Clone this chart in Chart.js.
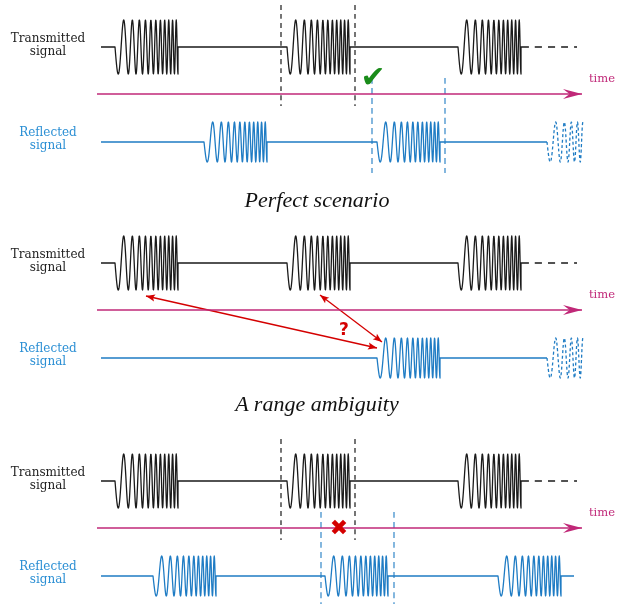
<!DOCTYPE html>
<html>
<head>
<meta charset="utf-8">
<script src="https://cdn.jsdelivr.net/npm/chart.js@4.4.1/dist/chart.umd.min.js"></script>
<style>
  body { margin: 0; background: #fff; }
  #wrap { position: relative; width: 624px; height: 604px; }
  #wrap canvas { position: absolute; left: 0; top: 0; }
  .lbl { position: absolute; left: 0; width: 96px; text-align: center;
         font: 12px "DejaVu Serif", serif; line-height: 13px; }
  .ttl { position: absolute; left: 0; width: 634px; text-align: center;
         font: italic 22px "Liberation Serif", serif; line-height: 24px; color: #111; }
  .time { position: absolute; left: 589px; font: 11.5px "DejaVu Serif", serif;
          line-height: 13px; color: #c02878; }
  .mark { position: absolute; transform: translate(-50%, -50%); line-height: 1; }
</style>
</head>
<body>
<div id="wrap">
  <canvas id="diagram" width="624" height="604"></canvas>
</div>
<script>
// time axis runs in canvas units (0..624), rows are stacked in three panels
const panelOffsets = [0, 216, 434];
const txBase = 47, axisY = 94, rxBase = 142;
const txAmp = 27, rxAmp = 20;
const pulseLen = 63;

// transmitted pulses (start of each chirp), same in every panel
const txPulses = [115, 287, 458];
const txLine = [101, 522];
const txDashed = [522, 577];

// reflected pulses per panel
const rxPulses = [[204, 377], [377], [153, 325, 498]];
const rxLine = [[101, 547], [101, 547], [101, 574]];
const rxDashedPulse = [547, 547, null];   // truncated, dashed chirp
const rxDashedEnd = 583;

// dashed gate markers
const txGates = [[281, 355], [], [281, 355]];
const rxGates = [[372, 445], [], [321, 394]];

// ambiguity arrows (panel 2)
const ambArrows = [
  [[320, 295], [382, 342]],
  [[146, 296], [377, 348]],
];

const ink = '#1a1a1a', blue = '#1f7cc4', magenta = '#c02878', red = '#d40000';

function chirpPoints(start, base, amp, stop) {
  const f0 = 1 / 14, f1 = 1 / 3.5;
  const end = Math.min(start + pulseLen, stop ?? Infinity);
  const pts = [];
  for (let t = start; t <= end + 1e-9; t += 0.25) {
    const tau = t - start;
    const ph = 2 * Math.PI * (f0 * tau + (f1 - f0) * tau * tau / (2 * pulseLen));
    pts.push({x: t, y: base + amp * Math.sin(ph)});
  }
  return pts;
}

function signal(line, pulses, base, amp) {
  const pts = [{x: line[0], y: base}];
  pulses.forEach(p => {
    pts.push({x: p, y: base});
    pts.push(...chirpPoints(p, base, amp));
    pts.push({x: p + pulseLen, y: base});
  });
  pts.push({x: line[1], y: base});
  return pts;
}

function lineDs(data, color, width, dash, extra) {
  return Object.assign({
    data: data, borderColor: color, backgroundColor: color, borderWidth: width,
    borderDash: dash || [], showLine: true, pointRadius: 0, fill: false,
    tension: 0.0001,   // keeps Chart.js off its per-pixel fast path
    borderJoinStyle: 'round',
  }, extra || {});
}

const datasets = [];
panelOffsets.forEach((off, k) => {
  datasets.push(lineDs(signal(txLine, txPulses, txBase + off, txAmp), ink, 1.3));
  datasets.push(lineDs([{x: txDashed[0], y: txBase + off}, {x: txDashed[1], y: txBase + off}], ink, 1.3, [7, 6]));
  datasets.push(lineDs(signal(rxLine[k], rxPulses[k], rxBase + off, rxAmp), blue, 1.3));
  if (rxDashedPulse[k] !== null) {
    datasets.push(lineDs(chirpPoints(rxDashedPulse[k], rxBase + off, rxAmp, rxDashedEnd), blue, 1.3, [3, 2.5]));
  }
  datasets.push(lineDs([{x: 97, y: axisY + off}, {x: 582, y: axisY + off}], magenta, 1.3, [],
    {heads: ['end'], headLen: 19, headW: 5, notch: 0.65}));
  txGates[k].forEach(g => datasets.push(lineDs(
    [{x: g, y: txBase + off - 42}, {x: g, y: axisY + off + 12}], ink, 1.2, [5, 4])));
  rxGates[k].forEach(g => datasets.push(lineDs(
    [{x: g, y: axisY + off - 16}, {x: g, y: k === 2 ? 604 : rxBase + off + 31}], blue, 1.1, [6, 4])));
});
ambArrows.forEach(a => datasets.push(lineDs(
  [{x: a[0][0], y: a[0][1]}, {x: a[1][0], y: a[1][1]}], red, 1.3, [],
  {heads: ['start', 'end'], headLen: 9, headW: 3.5, notch: 0.8})));

const arrowHeads = {
  id: 'arrowHeads',
  afterDatasetsDraw(chart) {
    const ctx = chart.ctx;
    chart.data.datasets.forEach((ds, i) => {
      if (!ds.heads) return;
      const pts = chart.getDatasetMeta(i).data;
      ds.heads.forEach(end => {
        const a = end === 'end' ? pts[pts.length - 1] : pts[0];
        const b = end === 'end' ? pts[pts.length - 2] : pts[1];
        const ang = Math.atan2(a.y - b.y, a.x - b.x);
        ctx.save();
        ctx.translate(a.x, a.y);
        ctx.rotate(ang);
        ctx.beginPath();
        ctx.moveTo(0, 0);
        ctx.lineTo(-ds.headLen, ds.headW);
        ctx.lineTo(-ds.headLen * ds.notch, 0);
        ctx.lineTo(-ds.headLen, -ds.headW);
        ctx.closePath();
        ctx.fillStyle = ds.borderColor;
        ctx.fill();
        ctx.restore();
      });
    });
  }
};

new Chart(document.getElementById('diagram'), {
  type: 'scatter',
  data: {datasets: datasets},
  options: {
    responsive: false,
    animation: false,
    layout: {padding: 0},
    scales: {
      x: {type: 'linear', min: 0, max: 624, display: false},
      y: {type: 'linear', min: 0, max: 604, reverse: true, display: false},
    },
    plugins: {legend: {display: false}, tooltip: {enabled: false}},
    elements: {line: {borderCapStyle: 'butt'}},
  },
  plugins: [arrowHeads],
});

// text labels
const wrap = document.getElementById('wrap');
function addDiv(cls, html, style) {
  const d = document.createElement('div');
  d.className = cls;
  d.innerHTML = html;
  Object.assign(d.style, style);
  wrap.appendChild(d);
}
panelOffsets.forEach(off => {
  addDiv('lbl', 'Transmitted<br>signal', {top: (32 + off) + 'px', color: '#222'});
  addDiv('lbl', 'Reflected<br>signal', {top: (126 + off) + 'px', color: '#2b8fd4'});
  addDiv('time', 'time', {top: (72 + off) + 'px'});
});
const titles = ['Perfect scenario', 'A range ambiguity'];
addDiv('ttl', titles[0], {top: '188px'});
addDiv('ttl', titles[1], {top: '392px'});
addDiv('mark', '✔', {left: '373px', top: '76px', color: '#1a8c1a', font: '30px "DejaVu Sans"'});
addDiv('mark', '?', {left: '344px', top: '329px', color: red, font: 'bold 17px "DejaVu Sans"'});
addDiv('mark', '✖', {left: '339px', top: '527px', color: red, font: '22px "DejaVu Sans"'});
</script>
</body>
</html>
